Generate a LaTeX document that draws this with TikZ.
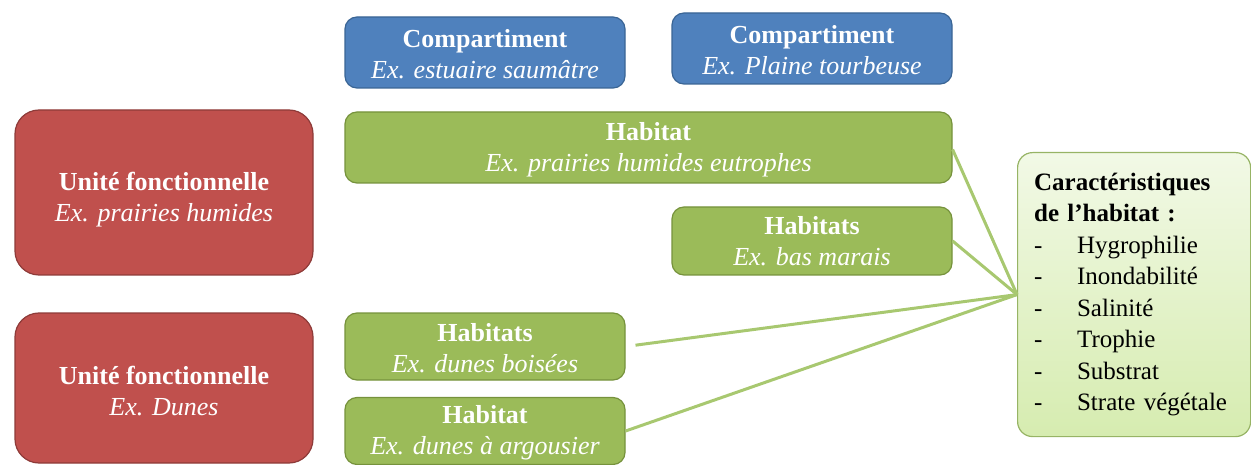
\documentclass[tikz,border=0pt]{standalone}
\usepackage{fontspec}
\setmainfont{Liberation Serif}
\definecolor{ufred}{HTML}{C0504D}
\definecolor{ufredline}{HTML}{8E3B39}
\definecolor{cpblue}{HTML}{4F81BD}
\definecolor{cpblueline}{HTML}{3A6595}
\definecolor{hbgreen}{HTML}{9BBB59}
\definecolor{hbgreenline}{HTML}{76923C}
\definecolor{linkgreen}{HTML}{A8C870}
\definecolor{charstop}{HTML}{F2F9E6}
\definecolor{charsbot}{HTML}{D6ECB0}

\begin{document}
\begin{tikzpicture}[x=1pt, y=-1pt,
  box/.style={draw, line width=1.2pt, rounded corners=12pt, text=white, align=center,
    font=\fontsize{26}{31}\selectfont, inner sep=0pt},
  unit/.style={box, fill=ufred, draw=ufredline, rounded corners=24pt},
  comp/.style={box, fill=cpblue, draw=cpblueline},
  hab/.style={box, fill=hbgreen, draw=hbgreenline},
  link/.style={draw=linkgreen, line width=3pt}]
\useasboundingbox (0,0) rectangle (1251,465);

%Compartments
\node[comp, minimum width=280pt, minimum height=71pt] (comp1) at (485,52.5)
  {\rule{0pt}{21pt}\textbf{Compartiment}\\\textit{Ex. estuaire saumâtre}};
\node[comp, minimum width=280pt, minimum height=71pt] (comp2) at (812,48.5)
  {\rule{0pt}{21pt}\textbf{Compartiment}\\\textit{Ex. Plaine tourbeuse}};

%Functional units
\node[unit, minimum width=298pt, minimum height=165pt] (unit1) at (164,192.5)
  {\rule{0pt}{32pt}\textbf{Unité fonctionnelle}\\\textit{Ex. prairies humides}};
\node[unit, minimum width=298pt, minimum height=150pt] (unit2) at (164,388)
  {\rule{0pt}{25pt}\textbf{Unité fonctionnelle}\\\textit{Ex. Dunes}};

%Habitats
\node[hab, minimum width=607pt, minimum height=71pt] (hab1) at (648.5,147.5)
  {\rule{0pt}{22pt}\textbf{Habitat}\\\textit{Ex. prairies humides eutrophes}};
\node[hab, minimum width=280pt, minimum height=68pt] (hab2) at (812,241)
  {\textbf{Habitats}\\\textit{Ex. bas marais}};
\node[hab, minimum width=280pt, minimum height=67pt] (hab3) at (485,346.5)
  {\rule{0pt}{22pt}\textbf{Habitats}\\\textit{Ex. dunes boisées}};
\node[hab, minimum width=280pt, minimum height=67pt] (hab4) at (485,431)
  {\rule{0pt}{22pt}\textbf{Habitat}\\\textit{Ex. dunes à argousier}};

%Characteristics
\node[draw=linkgreen!90!black, line width=1.2pt, rounded corners=15pt, top color=charstop,
  bottom color=charsbot, anchor=north west, minimum width=233pt, minimum height=284pt,
  text width=200pt, inner xsep=16pt, align=left, font=\fontsize{25}{31.5}\selectfont] (chars) at (1017,152)
  {\textbf{Caractéristiques}\\\textbf{de l'habitat :}\\
   \makebox[43pt][l]{-}Hygrophilie\\
   \makebox[43pt][l]{-}Inondabilité\\
   \makebox[43pt][l]{-}Salinité\\
   \makebox[43pt][l]{-}Trophie\\
   \makebox[43pt][l]{-}Substrat\\
   \makebox[43pt][l]{-}Strate végétale};

%Links
\draw[link] (hab1.east) ++(0,2) -- (chars.west);
\draw[link] (hab2.east) -- (chars.west);
\draw[link, shorten <=10pt] (hab3.east) -- (chars.west);
\draw[link] (hab4.east) -- (chars.west);
\end{tikzpicture}
\end{document}
